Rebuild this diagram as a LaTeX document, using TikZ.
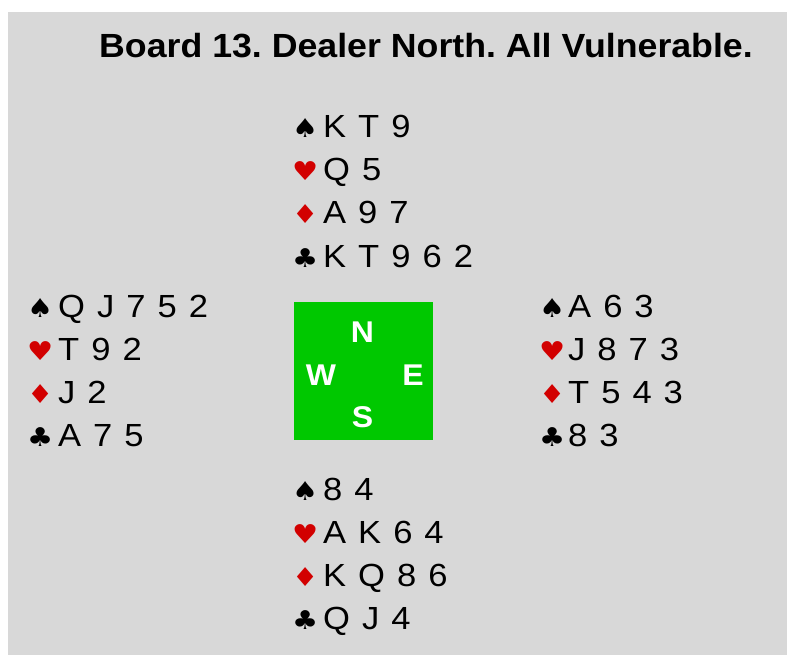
\documentclass[tikz,border=0pt]{standalone}
\usepackage{fontspec}
\setmainfont{Liberation Sans}
\newfontfamily\handfont[FakeStretch=1.08]{Liberation Sans}
\newfontfamily\titlefont[FakeStretch=1.066]{Liberation Sans Bold}
\newfontfamily\suitfont[FakeStretch=1.12]{DejaVu Sans}
\newcommand\cardfont{\fontsize{32}{32}\handfont\spaceskip 12pt\relax}
\usetikzlibrary{positioning}
\definecolor{tableGray}{RGB}{216,216,216}
\definecolor{suitRed}{RGB}{210,0,0}
\definecolor{compassGreen}{RGB}{0,200,0}
\frenchspacing

\begin{document}
\begin{tikzpicture}[x=1pt,y=-1pt,
          suit/.style={font=\fontsize{26}{26}\suitfont, inner sep=0pt,
            anchor=base west},
          redsuit/.style={suit, text=suitRed},
          cards/.style={font=\cardfont, inner sep=0pt, anchor=base west},
          compass/.style={font=\fontsize{30}{30}\titlefont, text=white,
            inner sep=0pt, anchor=base}
        ]
          \useasboundingbox (0,0) rectangle (787,655);
          \fill[white] (0,0) rectangle (787,655);
          \fill[tableGray] (8,12) rectangle (787,655);
          \node[font=\fontsize{33.5}{33.5}\titlefont, inner sep=0pt, anchor=base west]
            (title) at (99,58) {Board 13. Dealer North. All Vulnerable.};
          % north
          \node[suit] (nS) at (292,138) {♠};
          \node[cards] (nSc) at (323,138) {K T 9};
          \node[redsuit] (nH) at (292,181) {♥};
          \node[cards] (nHc) at (323,181) {Q 5};
          \node[redsuit] (nD) at (292,224) {♦};
          \node[cards] (nDc) at (323,224) {A 9 7};
          \node[suit] (nC) at (292,267) {♣};
          \node[cards] (nCc) at (323,267) {K T 9 6 2};
          % west
          \node[suit] (wS) at (27,317) {♠};
          \node[cards] (wSc) at (58,317) {Q J 7 5 2};
          \node[redsuit] (wH) at (27,360) {♥};
          \node[cards] (wHc) at (58,360) {T 9 2};
          \node[redsuit] (wD) at (27,403) {♦};
          \node[cards] (wDc) at (58,403) {J 2};
          \node[suit] (wC) at (27,446) {♣};
          \node[cards] (wCc) at (58,446) {A 7 5};
          % east
          \node[suit] (eS) at (539,317) {♠};
          \node[cards] (eSc) at (568,317) {A 6 3};
          \node[redsuit] (eH) at (539,360) {♥};
          \node[cards] (eHc) at (568,360) {J 8 7 3};
          \node[redsuit] (eD) at (539,403) {♦};
          \node[cards] (eDc) at (568,403) {T 5 4 3};
          \node[suit] (eC) at (539,446) {♣};
          \node[cards] (eCc) at (568,446) {8 3};
          % south
          \node[suit] (sS) at (292,500) {♠};
          \node[cards] (sSc) at (323,500) {8 4};
          \node[redsuit] (sH) at (292,543) {♥};
          \node[cards] (sHc) at (323,543) {A K 6 4};
          \node[redsuit] (sD) at (292,586) {♦};
          \node[cards] (sDc) at (323,586) {K Q 8 6};
          \node[suit] (sC) at (292,629) {♣};
          \node[cards] (sCc) at (323,629) {Q J 4};
          % table
          \node[fill=compassGreen, minimum width=139, minimum height=138,
            inner sep=0pt] (table) at (363.5,371) {};
          \node[compass] (N) at (362.5,342) {N};
          \node[compass] (W) at (321,385) {W};
          \node[compass] (E) at (413,385) {E};
          \node[compass] (S) at (362.5,427) {S};
        \end{tikzpicture}
\end{document}
